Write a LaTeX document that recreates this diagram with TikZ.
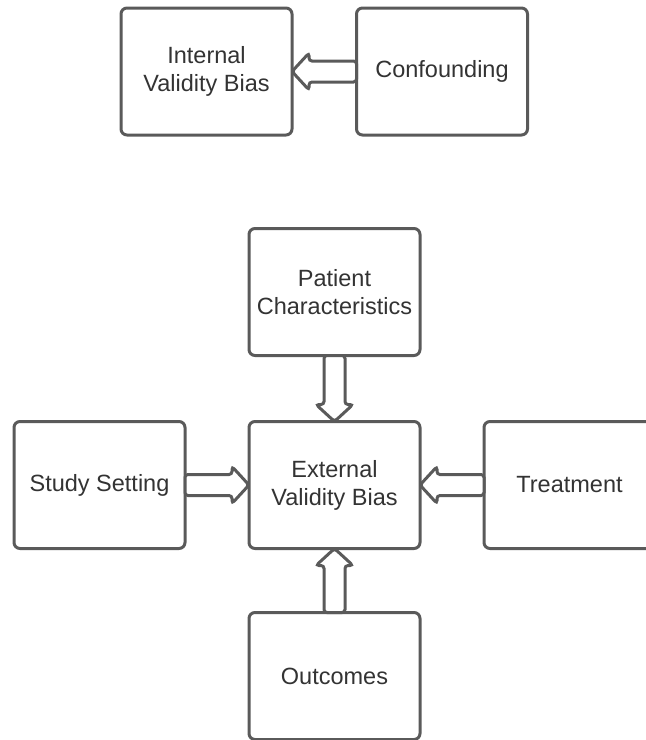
\documentclass[tikz,border=0pt]{standalone}
\usepackage{fontspec}
\setmainfont{Liberation Sans}
\usetikzlibrary{calc}
\definecolor{edge}{HTML}{5A5A5A}
\definecolor{txt}{HTML}{333333}
\tikzset{
  box/.style={draw=edge, line width=3pt, rounded corners=6pt, fill=white,
    minimum width=171pt, minimum height=127pt, outer sep=0pt, align=center,
    text=txt, font=\fontsize{23.5}{28}\selectfont, inner sep=0pt},
  blockarrow/.style={draw=edge, fill=white, line width=3pt, rounded corners=3pt,
    to path={
      ($(\tikztostart)!10.5pt!90:(\tikztotarget)$)
      -- ($($(\tikztotarget)!17pt!(\tikztostart)$)!10.5pt!90:(\tikztotarget)$)
      -- ($($(\tikztotarget)!17pt!(\tikztostart)$)!18.5pt!90:(\tikztotarget)$)
      -- (\tikztotarget)
      -- ($($(\tikztotarget)!17pt!(\tikztostart)$)!18.5pt!-90:(\tikztotarget)$)
      -- ($($(\tikztotarget)!17pt!(\tikztostart)$)!10.5pt!-90:(\tikztotarget)$)
      -- ($(\tikztostart)!10.5pt!-90:(\tikztotarget)$)
      -- cycle}}
}
\begin{document}
\begin{tikzpicture}[x=1pt,y=-1pt]
\useasboundingbox (0,0) rectangle (646,740);
\clip (0,0) rectangle (646,740);
\node[box] (int) at (206.5,71.5) {Internal\\Validity Bias};
\node[box] (conf) at (442,71.5) {Confounding};
\node[box] (pat) at (334.5,292) {Patient\\Characteristics};
\node[box] (ext) at (334.5,485) {External\\Validity Bias};
\node[box] (study) at (99.5,485) {Study Setting};
\node[box] (treat) at (569.5,485) {Treatment};
\node[box] (out) at (334.5,676) {Outcomes};
\draw[blockarrow] (conf.west) to (int.east);
\draw[blockarrow] (pat.south) to (ext.north);
\draw[blockarrow] (study.east) to (ext.west);
\draw[blockarrow] (treat.west) to (ext.east);
\draw[blockarrow] (out.north) to (ext.south);
\end{tikzpicture}
\end{document}
